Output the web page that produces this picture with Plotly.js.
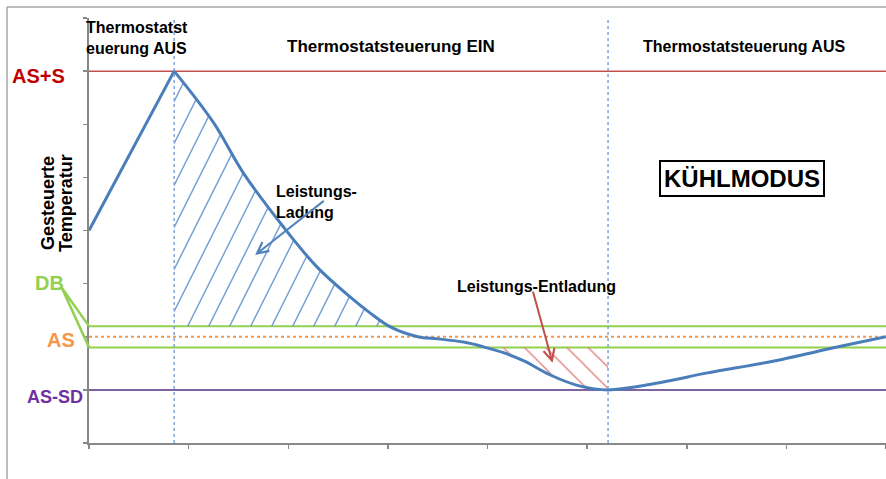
<!DOCTYPE html>
<html>
<head>
<meta charset="utf-8">
<script src="https://cdn.plot.ly/plotly-3.0.1.min.js"></script>
<style>
  html, body { margin: 0; padding: 0; background: #fff; }
  #chart { width: 886px; height: 479px; }
</style>
</head>
<body>
<div id="chart"></div>
<script>
// ---- data ----
const riseX = [0, 0.855];
const riseY = [4.0, 7.0];
const fallX = [0.855, 1.25, 1.55, 1.95, 2.29, 2.62, 2.82, 3.03, 3.30, 3.50, 3.76, 3.96, 4.16, 4.36, 4.63, 4.93, 5.21, 5.71, 6.21, 6.84, 7.52, 8.0];
const fallY = [7.0, 6.03, 5.08, 4.07, 3.31, 2.75, 2.45, 2.18, 2.00, 1.96, 1.90, 1.81, 1.70, 1.55, 1.28, 1.07, 1.00, 1.13, 1.32, 1.53, 1.81, 2.0];

const levelASS = 7;      // AS+S
const levelAS = 2;       // AS
const levelASSD = 1;     // AS-SD
const dbBand = [1.8, 2.2]; // DB
const switchX = [0.855, 5.21];

const levelLabels = ['AS+S', 'DB', 'AS', 'AS-SD'];
const phaseLabels = ['Thermostatst<br>euerung AUS', 'Thermostatsteuerung EIN', 'Thermostatsteuerung AUS'];
const modeLabel = 'KÜHLMODUS';
const yTitleLines = ['Gesteuerte', 'Temperatur'];
const chargeLabel = 'Leistungs-<br>Ladung';
const dischargeLabel = 'Leistungs-Entladung';

// ---- derived hatch regions ----
function crossAt(level, startIdx) {
  for (let i = startIdx; i < fallX.length - 1; i++) {
    if (fallY[i] >= level && fallY[i + 1] < level) {
      const t = (fallY[i] - level) / (fallY[i] - fallY[i + 1]);
      return { i: i, x: fallX[i] + t * (fallX[i + 1] - fallX[i]) };
    }
  }
  return null;
}
const c1 = crossAt(dbBand[1], 0);
const chargeX = fallX.slice(0, c1.i + 1).concat([c1.x]);
const chargeY = fallY.slice(0, c1.i + 1).concat([dbBand[1]]);

const c2 = crossAt(dbBand[0], c1.i);
const endIdx = fallX.indexOf(switchX[1]);
const dischX = [c2.x].concat(fallX.slice(c2.i + 1, endIdx + 1));
const dischY = [dbBand[0]].concat(fallY.slice(c2.i + 1, endIdx + 1));

const FONT = 'Liberation Sans, Arial, Helvetica, sans-serif';
const curveColor = '#4a7ebb';

// steep "/" hatch (approx. 2:1) as a custom pattern path
const S = 42, W = 1.6;
const steepPath = `M0,${S}L${W},${S}L${S/2+W},0L${S/2},0Z` +
                  `M${S/2},${S}L${S/2+W},${S}L${S+W},0L${S},0Z` +
                  `M0,0L${W},0L0,${2*W}Z`;

const traces = [
  { x: [switchX[0], c1.x], y: [dbBand[1], dbBand[1]], mode: 'lines', line: { width: 0 }, hoverinfo: 'skip', showlegend: false },
  { x: chargeX, y: chargeY, mode: 'lines', line: { width: 0, shape: 'spline' }, fill: 'tonexty',
    fillcolor: 'rgba(0,0,0,0)',
    fillpattern: { path: steepPath, size: S, fgcolor: '#729dd6', bgcolor: 'rgba(0,0,0,0)', fillmode: 'replace' },
    hoverinfo: 'skip', showlegend: false },
  { x: [c2.x, switchX[1]], y: [dbBand[0], dbBand[0]], mode: 'lines', line: { width: 0 }, hoverinfo: 'skip', showlegend: false },
  { x: dischX, y: dischY, mode: 'lines', line: { width: 0, shape: 'spline' }, fill: 'tonexty',
    fillcolor: 'rgba(0,0,0,0)',
    fillpattern: { shape: '\\', size: 15, solidity: 0.1, fgcolor: '#e08784', bgcolor: 'rgba(0,0,0,0)', fillmode: 'replace' },
    hoverinfo: 'skip', showlegend: false },
  { x: riseX, y: riseY, mode: 'lines', line: { color: curveColor, width: 3 }, hoverinfo: 'skip', showlegend: false },
  { x: fallX, y: fallY, mode: 'lines', line: { color: curveColor, width: 3, shape: 'spline', smoothing: 1 }, hoverinfo: 'skip', showlegend: false }
];

function hline(y, color, width, dash) {
  return { type: 'line', xref: 'paper', yref: 'y', x0: 0, x1: 1, y0: y, y1: y, layer: 'below',
           line: { color: color, width: width, dash: dash || 'solid' } };
}
const yMax = 8;
const shapes = [
  hline(levelASS, '#c0504d', 1.5),
  hline(dbBand[1], '#92d050', 2),
  hline(dbBand[0], '#92d050', 2),
  hline(levelAS, '#f79646', 2, 'dot'),
  hline(levelASSD, '#8064a2', 2),
  { type: 'line', xref: 'x', yref: 'paper', x0: switchX[0], x1: switchX[0], y0: 0, y1: 1, layer: 'above', line: { color: '#7fa3d6', width: 1.5, dash: 'dot' } },
  { type: 'line', xref: 'x', yref: 'paper', x0: switchX[1], x1: switchX[1], y0: 0, y1: 1, layer: 'above', line: { color: '#7fa3d6', width: 1.5, dash: 'dot' } },
  // DB connectors
  { type: 'line', xref: 'paper', yref: 'paper', x0: -0.034, y0: 0.3647, x1: 0, y1: dbBand[1] / yMax, line: { color: '#92d050', width: 2.5 } },
  { type: 'line', xref: 'paper', yref: 'paper', x0: -0.034, y0: 0.3647, x1: 0, y1: dbBand[0] / yMax, line: { color: '#92d050', width: 2.5 } },
  // outer frame
  { type: 'line', xref: 'paper', yref: 'paper', x0: -0.1029, x1: 1.01, y0: 1.0259, y1: 1.0259, line: { color: '#a6a6a6', width: 1.5 } },
  { type: 'line', xref: 'paper', yref: 'paper', x0: -0.1029, x1: -0.1029, y0: 1.0259, y1: -0.1, line: { color: '#a6a6a6', width: 1.5 } }
];

function lab(text, x, y, size, color, extra) {
  return Object.assign({ text: '<b>' + text + '</b>', xref: 'paper', yref: 'paper', x: x, y: y,
    xanchor: 'center', yanchor: 'middle', showarrow: false,
    font: { family: FONT, size: size, color: color } }, extra || {});
}
const annotations = [
  lab(phaseLabels[0], -0.0063, 0.953, 16, '#000', { xanchor: 'left', align: 'left' }),
  lab(phaseLabels[1], 0.3785, 0.932, 17, '#000'),
  lab(phaseLabels[2], 0.8215, 0.932, 16, '#000'),
  lab(modeLabel, 0.819, 0.623, 24, '#000', { bordercolor: '#000', borderwidth: 2, borderpad: 3 }),
  lab(chargeLabel, 0.2315, 0.567, 16, '#000', { xanchor: 'left', align: 'left' }),
  lab(dischargeLabel, 0.5615, 0.369, 16, '#000'),
  lab(levelLabels[0], -0.0635, 0.8635, 20, '#c00000'),
  lab(levelLabels[1], -0.0496, 0.3765, 20, '#92d050'),
  lab(levelLabels[2], -0.0351, 0.2424, 20, '#f79646'),
  lab(levelLabels[3], -0.0427, 0.1094, 18, '#7030a0'),
  lab(yTitleLines[0], -0.0515, 0.5647, 18, '#000', { textangle: -90 }),
  lab(yTitleLines[1], -0.0290, 0.5647, 18, '#000', { textangle: -90 }),
  // arrows
  { text: '', xref: 'x', yref: 'y', x: 1.668, y: 3.54, axref: 'x', ayref: 'y', ax: 2.372, ay: 4.58,
    showarrow: true, arrowhead: 5, arrowsize: 1.1, arrowwidth: 2, arrowcolor: '#4f81bd' },
  { text: '', xref: 'x', yref: 'y', x: 4.653, y: 1.51, axref: 'x', ayref: 'y', ax: 4.452, ay: 2.88,
    showarrow: true, arrowhead: 5, arrowsize: 1.1, arrowwidth: 2, arrowcolor: '#c0504d' }
];

const axisCommon = {
  showgrid: false, zeroline: false, showticklabels: false,
  showline: true, linecolor: '#888888', linewidth: 2,
  ticks: 'outside', ticklen: 4, tickwidth: 1.5, tickcolor: '#888888',
  dtick: 1, tick0: 0, fixedrange: true
};

const layout = {
  width: 886, height: 479,
  margin: { l: 89, r: 0, t: 18, b: 36 },
  paper_bgcolor: '#ffffff', plot_bgcolor: '#ffffff',
  showlegend: false,
  xaxis: Object.assign({}, axisCommon, { range: [0, 8.0] }),
  yaxis: Object.assign({}, axisCommon, { range: [0, yMax] }),
  shapes: shapes,
  annotations: annotations,
  font: { family: FONT }
};

Plotly.newPlot('chart', traces, layout, { displayModeBar: false, staticPlot: true });
</script>
</body>
</html>
